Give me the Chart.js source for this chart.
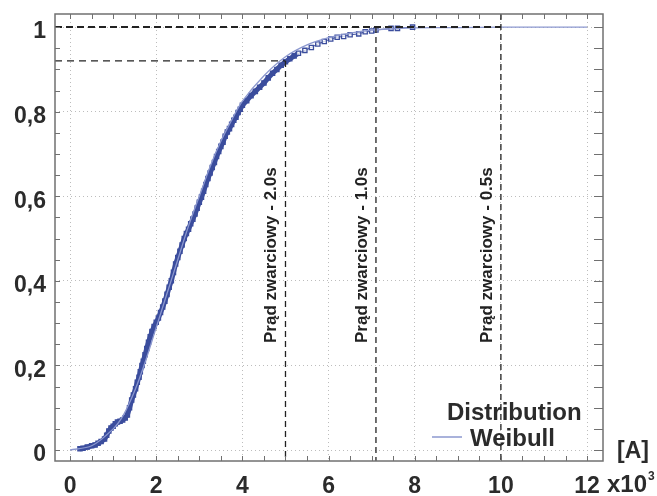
<!DOCTYPE html>
<html>
<head>
<meta charset="utf-8">
<script src="https://cdn.jsdelivr.net/npm/chart.js@4.4.1/dist/chart.umd.min.js"></script>
<style>
html,body{margin:0;padding:0;background:#fff;}
#wrap{width:657px;height:496px;position:relative;}
</style>
</head>
<body>
<div id="wrap"><canvas id="c" width="657" height="496"></canvas></div>
<script>
// ---- data (current x10^3 A, cumulative probability) ----
const distX = [0.23,0.30,0.40,0.50,0.58,0.65,0.72,0.80,0.85,0.90,0.95,1.00,1.05,1.10,1.16,1.22,1.28,1.33,1.38,1.43,1.47,1.52,1.56,1.60,1.63,1.67,1.70,1.74,1.78,1.82,1.86,1.90,1.95,2.00,2.05,2.10,2.15,2.20,2.25,2.30,2.35,2.40,2.45,2.50,2.55,2.60,2.65,2.70,2.75,2.80,2.85,2.90,2.95,3.00,3.05,3.10,3.15,3.20,3.25,3.30,3.35,3.40,3.45,3.50,3.55,3.60,3.65,3.70,3.75,3.80,3.85,3.90,3.95,4.00,4.10,4.20,4.30,4.40,4.50,4.60,4.70,4.80,4.90,5.00,5.10,5.20,5.30,5.45,5.60,5.75,5.90,6.05,6.20,6.35,6.50,6.70,6.85,7.00,7.10,7.45,7.60,7.95];
const distY = [0.003,0.004,0.007,0.010,0.012,0.016,0.020,0.026,0.035,0.045,0.052,0.056,0.062,0.066,0.068,0.071,0.076,0.083,0.100,0.118,0.130,0.145,0.160,0.172,0.185,0.200,0.210,0.225,0.240,0.255,0.268,0.280,0.292,0.302,0.312,0.325,0.338,0.352,0.368,0.385,0.400,0.420,0.440,0.455,0.470,0.485,0.500,0.512,0.522,0.535,0.546,0.558,0.572,0.586,0.598,0.612,0.628,0.642,0.655,0.668,0.680,0.694,0.706,0.718,0.728,0.742,0.752,0.760,0.770,0.780,0.787,0.798,0.806,0.815,0.826,0.838,0.848,0.858,0.868,0.880,0.891,0.900,0.910,0.918,0.925,0.932,0.938,0.945,0.952,0.960,0.966,0.972,0.976,0.978,0.982,0.984,0.989,0.991,0.993,0.997,0.997,1.000];
const weibullX = [0,0.5,1,1.25,1.5,1.75,2,2.25,2.5,2.75,3,3.25,3.5,3.75,4,4.5,5,5.5,6,6.5,7,7.5,8,9,10,11,12];
const weibullY = [0,0.01,0.05,0.085,0.14,0.21,0.29,0.37,0.45,0.53,0.60,0.67,0.73,0.78,0.825,0.885,0.93,0.958,0.975,0.986,0.993,0.996,0.998,0.999,1,1,1];
const refCurrents = [5, 7.1, 10];
const refTopLevel = [0.92, 1.0, 1.031];
const refLabels = ['Prąd zwarciowy - 2.0s','Prąd zwarciowy - 1.0s','Prąd zwarciowy - 0.5s'];
const xTicks = [0,2,4,6,8,10,12];
const yTicks = [0,0.2,0.4,0.6,0.8,1];
const X_MIN = -0.35, X_MAX = 12.37, Y_MIN = -0.026, Y_MAX = 1.031;

const DATA_COLOR = '#3b4d9d';
const WEIBULL_COLOR = '#8c98cf';
const FONT = "'Liberation Sans', Arial, sans-serif";

const distPts = distX.map((x,i)=>({x, y: distY[i]}));
const weibPts = weibullX.map((x,i)=>({x, y: weibullY[i]}));

const refSets = [];
refSets.push({label:'h1', data:[{x:X_MIN,y:1},{x:refCurrents[2],y:1}], borderColor:'#222', borderWidth:2, borderDash:[7,4]});
refSets.push({label:'h092', data:[{x:X_MIN,y:refTopLevel[0]},{x:refCurrents[0],y:refTopLevel[0]}], borderColor:'#222', borderWidth:1.2, borderDash:[7,5]});
refCurrents.forEach((c,i)=>{
  refSets.push({label:'v'+i, data:[{x:c,y:refTopLevel[i]},{x:c,y:Y_MIN}], borderColor:'#222', borderWidth:1.3, borderDash:[6,4]});
});
refSets.forEach(s=>{ s.showLine=true; s.pointRadius=0; s.fill=false; s.order=0; });

const frame = {
  id:'frame',
  afterDatasetsDraw(chart){
    const {ctx, chartArea:a, scales:{x,y}} = chart;
    ctx.save();
    ctx.strokeStyle='#707070'; ctx.lineWidth=1.5; ctx.setLineDash([]);
    ctx.strokeRect(a.left, a.top, a.right-a.left, a.bottom-a.top);
    ctx.lineWidth=1;
    ctx.beginPath();
    for(let v=0; v<=12.001; v+=0.5){
      const px = Math.round(x.getPixelForValue(v))+0.5;
      ctx.moveTo(px,a.top); ctx.lineTo(px,a.top+5);
      ctx.moveTo(px,a.bottom); ctx.lineTo(px,a.bottom-5);
    }
    for(let v=0; v<=1.0001; v+=0.05){
      const py = Math.round(y.getPixelForValue(v))+0.5;
      ctx.moveTo(a.left,py); ctx.lineTo(a.left+5,py);
      ctx.moveTo(a.right,py); ctx.lineTo(a.right-9,py);
    }
    ctx.stroke();
    ctx.fillStyle='#222';
    ctx.font = 'bold 17px '+FONT;
    ctx.textAlign='left'; ctx.textBaseline='alphabetic';
    refCurrents.forEach((c,i)=>{
      const px = x.getPixelForValue(c);
      ctx.save();
      ctx.translate(px-9, 343);
      ctx.rotate(-Math.PI/2);
      ctx.fillText(refLabels[i],0,0);
      ctx.restore();
    });
    ctx.fillStyle='#2b2b2b';
    ctx.font='bold 24px '+FONT;
    ctx.fillText('Distribution',447,420);
    ctx.fillText('Weibull',470,446);
    ctx.strokeStyle=WEIBULL_COLOR; ctx.lineWidth=1.5;
    ctx.beginPath(); ctx.moveTo(432,437); ctx.lineTo(462,437); ctx.stroke();
    ctx.font='bold 23px '+FONT;
    ctx.fillText('[A]',617,458);
    ctx.font='bold 24px '+FONT;
    ctx.fillText('x10',607,492);
    const w = ctx.measureText('x10').width;
    ctx.font='bold 12px '+FONT;
    ctx.fillText('3',607+w+1,480);
    ctx.restore();
  }
};

new Chart(document.getElementById('c'), {
  type:'scatter',
  data:{
    datasets:[
      {label:'Distribution', data:distPts, showLine:true, borderColor:DATA_COLOR, borderWidth:5,
       segment:{borderWidth: c => c.p0.parsed.x < 5.3 ? 5 : 1},
       pointStyle:'rect', pointRadius:3, pointBorderColor:DATA_COLOR,
       pointBackgroundColor: c => (c.raw && c.raw.x < 5.3) ? DATA_COLOR : 'rgba(255,255,255,0.7)',
       pointBorderWidth:1.3, order:2},
      {label:'Weibull', data:weibPts, showLine:true, borderColor:WEIBULL_COLOR, borderWidth:1.3, pointRadius:0, tension:0.3, order:1},
      ...refSets
    ]
  },
  options:{
    responsive:false, animation:false,
    layout:{padding:{top:14,right:54,left:0,bottom:0}},
    plugins:{legend:{display:false}, tooltip:{enabled:false}},
    scales:{
      x:{type:'linear', min:X_MIN, max:X_MAX,
         afterBuildTicks: s => { s.ticks = xTicks.map(v=>({value:v})); },
         afterFit: s => { s.height = 35; s.paddingLeft = 0; s.paddingRight = 0; },
         grid:{color:'#bdbdbd', lineWidth:1, drawTicks:false},
         border:{display:false, dash:[1,3]},
         ticks:{padding:12, color:'#2b2b2b', font:{family:FONT, size:23, weight:'bold'}, callback:v=>String(v), maxRotation:0, autoSkip:false}
      },
      y:{type:'linear', min:Y_MIN, max:Y_MAX,
         afterBuildTicks: s => { s.ticks = yTicks.map(v=>({value:v})); },
         afterFit: s => { s.width = 55; s.paddingTop = 0; s.paddingBottom = 0; },
         grid:{color:'#bdbdbd', lineWidth:1, drawTicks:false},
         border:{display:false, dash:[1,3]},
         ticks:{padding:9, labelOffset:5, color:'#2b2b2b', font:{family:FONT, size:23, weight:'bold'},
                callback:v=> v===0?'0': v===1?'1': v.toFixed(1).replace('.',','), autoSkip:false}
      }
    }
  },
  plugins:[frame]
});
</script>
</body>
</html>
